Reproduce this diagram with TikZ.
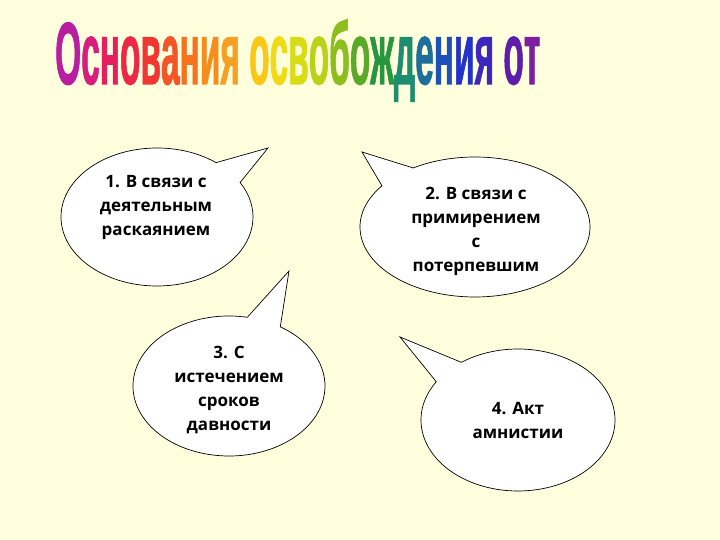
\documentclass[tikz,border=0pt]{standalone}
\usepackage{fontspec}
\usepackage{graphicx}
\setmainfont{Open Sans}
\newfontfamily\titlefont[FakeBold=1.5]{Liberation Sans Bold}
\definecolor{bg}{RGB}{255,255,222}
\definecolor{t1}{RGB}{185,30,160}
\definecolor{t2}{RGB}{215,30,125}
\definecolor{t3}{RGB}{228,30,95}
\definecolor{t4}{RGB}{236,40,70}
\definecolor{t5}{RGB}{240,55,50}
\definecolor{t6}{RGB}{244,85,40}
\definecolor{t7}{RGB}{245,115,30}
\definecolor{t8}{RGB}{246,140,30}
\definecolor{t9}{RGB}{246,160,35}
\definecolor{t10}{RGB}{250,200,20}
\definecolor{t11}{RGB}{240,218,20}
\definecolor{t12}{RGB}{215,220,20}
\definecolor{t13}{RGB}{185,210,25}
\definecolor{t14}{RGB}{140,190,30}
\definecolor{t15}{RGB}{90,170,40}
\definecolor{t16}{RGB}{40,150,60}
\definecolor{t17}{RGB}{30,140,110}
\definecolor{t18}{RGB}{30,110,155}
\definecolor{t19}{RGB}{30,80,185}
\definecolor{t20}{RGB}{35,50,200}
\definecolor{t21}{RGB}{60,40,190}
\definecolor{t22}{RGB}{95,30,170}
\definecolor{t23}{RGB}{125,30,160}
\newcommand{\ttlL}[2]{\textcolor{#1}{#2}}
\newcommand{\titletext}{\ttlL{t1}{О}\ttlL{t2}{с}\ttlL{t3}{н}\ttlL{t4}{о}\ttlL{t5}{в}\ttlL{t6}{а}\ttlL{t7}{н}\ttlL{t8}{и}\ttlL{t9}{я} \ttlL{t10}{о}\ttlL{t11}{с}\ttlL{t12}{в}\ttlL{t13}{о}\ttlL{t14}{б}\ttlL{t15}{о}\ttlL{t16}{ж}\ttlL{t17}{д}\ttlL{t18}{е}\ttlL{t19}{н}\ttlL{t20}{и}\ttlL{t21}{я} \ttlL{t22}{о}\ttlL{t23}{т}}
\newcommand{\titlebox}{{\titlefont\fontsize{40}{40}\selectfont\resizebox{485pt}{63pt}{\raisebox{0pt}[0.716em][0pt]{\titletext}}}}
\tikzset{
  bubble/.style={draw=black, line width=0.7pt, fill=white, line join=miter},
  btext/.style={align=center, inner sep=0pt, font=\bfseries\fontsize{17}{24}\selectfont},
}
\begin{document}
\begin{tikzpicture}[x=1pt,y=1pt]
\fill[bg] (0,0) rectangle (720,540);
\useasboundingbox (0,0) rectangle (720,540);
% title
\node[anchor=base west, inner sep=0pt] (title) at (55,456) {\titlebox};
% bubble 1
\coordinate (tip1) at (268,392);
\draw[bubble] (157,323) ++(52:96pt and 69pt) arc[start angle=52, end angle=390, x radius=96pt, y radius=69pt] -- (tip1) -- cycle;
\node[btext] (b1) at (156,333) {1. В связи с\\деятельным\\раскаянием};
% bubble 2
\coordinate (tip2) at (362,388);
\draw[bubble] (475,313) ++(144:115pt and 70pt) arc[start angle=144, end angle=482.5, x radius=115pt, y radius=70pt] -- (tip2) -- cycle;
\node[btext] (b2) at (476,309) {2. В связи с\\примирением\\с\\потерпевшим};
% bubble 3
\coordinate (tip3) at (289,269);
\draw[bubble] (229,154) ++(79:96pt and 70pt) arc[start angle=79, end angle=417.7, x radius=96pt, y radius=70pt] -- (tip3) -- cycle;
\node[btext] (b3) at (229,150) {3. С\\истечением\\сроков\\давности};
% bubble 4
\coordinate (tip4) at (400,203);
\draw[bubble] (518,120) ++(147.4:97pt and 71pt) arc[start angle=147.4, end angle=485.7, x radius=97pt, y radius=71pt] -- (tip4) -- cycle;
\node[btext] (b4) at (518,120) {4. Акт\\амнистии};
\end{tikzpicture}
\end{document}
